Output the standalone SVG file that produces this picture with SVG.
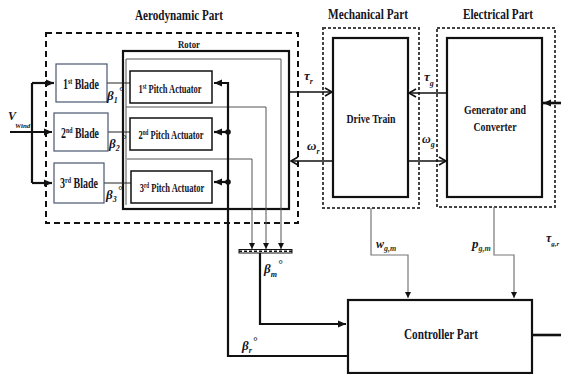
<svg xmlns="http://www.w3.org/2000/svg" width="561" height="374" viewBox="0 0 561 374">
<style>
.t{font-family:'Liberation Serif','Times New Roman','DejaVu Serif',serif;font-weight:700;fill:#15151f;}
.m{font-family:'Liberation Serif','Times New Roman','DejaVu Serif',serif;font-style:italic;font-weight:700;fill:#15151f;}
.blade{fill:#fff;stroke:#4a5670;stroke-width:1.2;}
.act{fill:#fff;stroke:#111;stroke-width:1.5;}
.big{fill:#fff;stroke:#111;stroke-width:2.2;}
.dash1{fill:none;stroke:#111;stroke-width:2;stroke-dasharray:6,4;}
.dash2{fill:none;stroke:#444;stroke-width:2;stroke-dasharray:3,2;}
.thin{fill:none;stroke:#555;stroke-width:1;}
.thick{fill:none;stroke:#111;stroke-width:2.2;}
.med{fill:none;stroke:#111;stroke-width:1.5;}
.gray{fill:none;stroke:#777;stroke-width:1.2;}
</style>
<defs>
<marker id="af" markerUnits="userSpaceOnUse" markerWidth="10" markerHeight="10" refX="8" refY="5" orient="auto"><path d="M0,1.5 L8,5 L0,8.5 Z" fill="#111"/></marker>
<marker id="as" markerUnits="userSpaceOnUse" markerWidth="8" markerHeight="8" refX="6" refY="4" orient="auto"><path d="M0,1 L6,4 L0,7 Z" fill="#111"/></marker>
<marker id="ao" markerUnits="userSpaceOnUse" markerWidth="10" markerHeight="10" refX="8" refY="5" orient="auto"><path d="M1,1 L8,5 L1,9" fill="none" stroke="#111" stroke-width="1.6"/></marker>
</defs>

<!-- titles -->
<text class="t" x="179" y="20" font-size="14" text-anchor="middle" textLength="88" lengthAdjust="spacingAndGlyphs">Aerodynamic Part</text>
<text class="t" x="368" y="19" font-size="14" text-anchor="middle" textLength="80" lengthAdjust="spacingAndGlyphs">Mechanical Part</text>
<text class="t" x="498" y="19" font-size="14" text-anchor="middle" textLength="70" lengthAdjust="spacingAndGlyphs">Electrical Part</text>

<!-- containers -->
<g id="aerodynamic-part"><rect class="dash1" x="46" y="33" width="252" height="190"/></g>
<g id="mechanical-part"><rect class="dash2" x="323" y="28" width="96" height="180"/></g>
<g id="electrical-part"><rect class="dash2" x="437" y="28" width="118" height="179"/></g>

<g id="rotor">
<rect class="big" x="123" y="51" width="166" height="158" fill="none"/>
<text class="t" x="189" y="48" font-size="11" text-anchor="middle" textLength="22" lengthAdjust="spacingAndGlyphs">Rotor</text>
</g>

<g id="connectors">
<!-- feedback loops inside rotor -->
<path class="thin" d="M126,205 V59 H281 V249" marker-end="url(#as)"/>
<path class="thin" d="M126,107 H266 V249" marker-end="url(#as)"/>
<path class="thin" d="M127,159 H252 V249" marker-end="url(#as)"/>

<!-- wind input -->
<path class="thick" d="M10,132 H52" marker-end="url(#af)"/>
<path class="thick" d="M32,83 V183"/>
<path class="thick" d="M32,83 H54" marker-end="url(#af)"/>
<path class="thick" d="M32,183 H52" marker-end="url(#af)"/>

<!-- blade to actuator -->
<path class="thin" style="stroke:#222" d="M107,83 H130"/>
<path class="thin" style="stroke:#222" d="M108,132 H130"/>
<path class="thin" style="stroke:#222" d="M104,183 H131"/>

<!-- pitch reference bus -->
<path class="thick" d="M348,356 H228 V83 H214" marker-end="url(#af)"/>
<path class="thick" d="M228,132 H214" marker-end="url(#af)"/>
<path class="thick" d="M228,182 H214" marker-end="url(#af)"/>
<circle cx="228" cy="132" r="2.8" fill="#111"/>
<circle cx="228" cy="182" r="2.8" fill="#111"/>

<!-- mux bar and beta_m -->
<rect x="239" y="249.5" width="53" height="3.5" fill="#fff" stroke="#111" stroke-width="1"/>
<line x1="239" y1="251.2" x2="292" y2="251.2" stroke="#111" stroke-width="1.5" stroke-dasharray="3,2"/>
<path class="thick" d="M260,253 V324 H346" marker-end="url(#af)"/>

<!-- torque / speed -->
<path class="med" d="M289,92 H332" marker-end="url(#ao)"/>
<path class="med" d="M333,161 H291" marker-end="url(#ao)"/>
<path class="med" d="M447,93 H409" marker-end="url(#ao)"/>
<path class="med" d="M408,161 H446" marker-end="url(#ao)"/>

<!-- external -->
<path class="thick" style="stroke-width:2.6" d="M561,103 H543" marker-end="url(#af)"/>
<path class="thick" style="stroke-width:2.6" d="M532,335 H561"/>

<!-- measurements to controller -->
<path class="gray" d="M371,208 V255 H408 V298" marker-end="url(#as)"/>
<path class="gray" d="M494,207 V255 H514 V298" marker-end="url(#as)"/>
</g>

<!-- blades -->
<g id="blade1"><rect class="blade" x="56" y="64" width="51" height="38"/>
<text class="t" transform="translate(81,89) scale(0.66,1)" font-size="15" text-anchor="middle">1<tspan font-size="9" dy="-5">st</tspan><tspan dy="5"> Blade</tspan></text></g>
<g id="blade2"><rect class="blade" x="54" y="113" width="54" height="38"/>
<text class="t" transform="translate(80,138) scale(0.655,1)" font-size="15" text-anchor="middle">2<tspan font-size="9" dy="-5">nd</tspan><tspan dy="5"> Blade</tspan></text></g>
<g id="blade3"><rect class="blade" x="54" y="163" width="50" height="40"/>
<text class="t" transform="translate(79,188) scale(0.665,1)" font-size="15" text-anchor="middle">3<tspan font-size="9" dy="-5">rd</tspan><tspan dy="5"> Blade</tspan></text></g>

<!-- pitch actuators -->
<g id="actuator1"><rect class="act" x="130" y="71" width="82" height="32"/>
<text class="t" transform="translate(170,93) scale(0.68,1)" font-size="12.5" text-anchor="middle">1<tspan font-size="7.5" dy="-4">st</tspan><tspan dy="4"> Pitch Actuator</tspan></text></g>
<g id="actuator2"><rect class="act" x="130" y="118" width="82" height="32"/>
<text class="t" transform="translate(171,139) scale(0.68,1)" font-size="12.5" text-anchor="middle">2<tspan font-size="7.5" dy="-4">nd</tspan><tspan dy="4"> Pitch Actuator</tspan></text></g>
<g id="actuator3"><rect class="act" x="131" y="171" width="81" height="32"/>
<text class="t" transform="translate(172,192) scale(0.68,1)" font-size="12.5" text-anchor="middle">3<tspan font-size="7.5" dy="-4">rd</tspan><tspan dy="4"> Pitch Actuator</tspan></text></g>

<!-- drive train -->
<g id="drive-train"><rect class="big" x="333" y="38" width="75" height="159"/>
<text class="t" x="371" y="123" font-size="13.5" text-anchor="middle" textLength="49" lengthAdjust="spacingAndGlyphs">Drive Train</text></g>

<!-- generator -->
<g id="generator"><rect class="big" x="447" y="38" width="95" height="159"/>
<text class="t" x="495" y="114" font-size="12.5" text-anchor="middle" textLength="62" lengthAdjust="spacingAndGlyphs">Generator and</text>
<text class="t" x="495" y="131" font-size="12.5" text-anchor="middle" textLength="43" lengthAdjust="spacingAndGlyphs">Converter</text></g>

<!-- controller -->
<g id="controller"><rect class="big" x="348" y="300" width="184" height="73"/>
<text class="t" x="441" y="339" font-size="15" text-anchor="middle" textLength="74" lengthAdjust="spacingAndGlyphs">Controller Part</text></g>

<!-- labels -->
<g id="labels">
<text class="m" x="8" y="120" font-size="12">V</text>
<text class="m" x="15" y="128" font-size="7">Wind</text>
<text class="m" x="107" y="100" font-size="13">β<tspan font-size="8" dy="3">1</tspan><tspan font-size="11" dx="1" dy="-8">°</tspan></text>
<text class="m" x="109" y="148" font-size="13">β<tspan font-size="8" dy="3">2</tspan><tspan font-size="11" dx="2" dy="-8">°</tspan></text>
<text class="m" x="106" y="199" font-size="13">β<tspan font-size="8" dy="3">3</tspan><tspan font-size="11" dx="1" dy="-8">°</tspan></text>
<text class="m" x="304" y="80" font-size="13">τ<tspan font-size="8" dy="4">r</tspan></text>
<text class="m" x="307" y="150" font-size="13">ω<tspan font-size="8" dy="4">r</tspan></text>
<text class="m" x="424" y="81" font-size="13">τ<tspan font-size="8" dy="5">g</tspan></text>
<text class="m" x="422" y="143" font-size="12">ω<tspan font-size="8" dy="4">g</tspan></text>
<text class="m" x="376" y="248" font-size="12" fill="#1d2a1d">w<tspan font-size="8" dy="3" fill="#254025">g,m</tspan></text>
<text class="m" x="472" y="248" font-size="13" fill="#1d2a1d">p<tspan font-size="8" dy="3" fill="#254025">g,m</tspan></text>
<text class="m" x="546" y="242" font-size="12">τ<tspan font-size="7" dy="4">g,r</tspan></text>
<text class="m" x="264" y="273" font-size="13">β<tspan font-size="8" dy="4">m</tspan><tspan font-size="11" dx="1" dy="-9">°</tspan></text>
<text class="m" x="242" y="350" font-size="13">β<tspan font-size="8" dy="3">r</tspan><tspan font-size="11" dx="1" dy="-8">°</tspan></text>
</g>
</svg>
